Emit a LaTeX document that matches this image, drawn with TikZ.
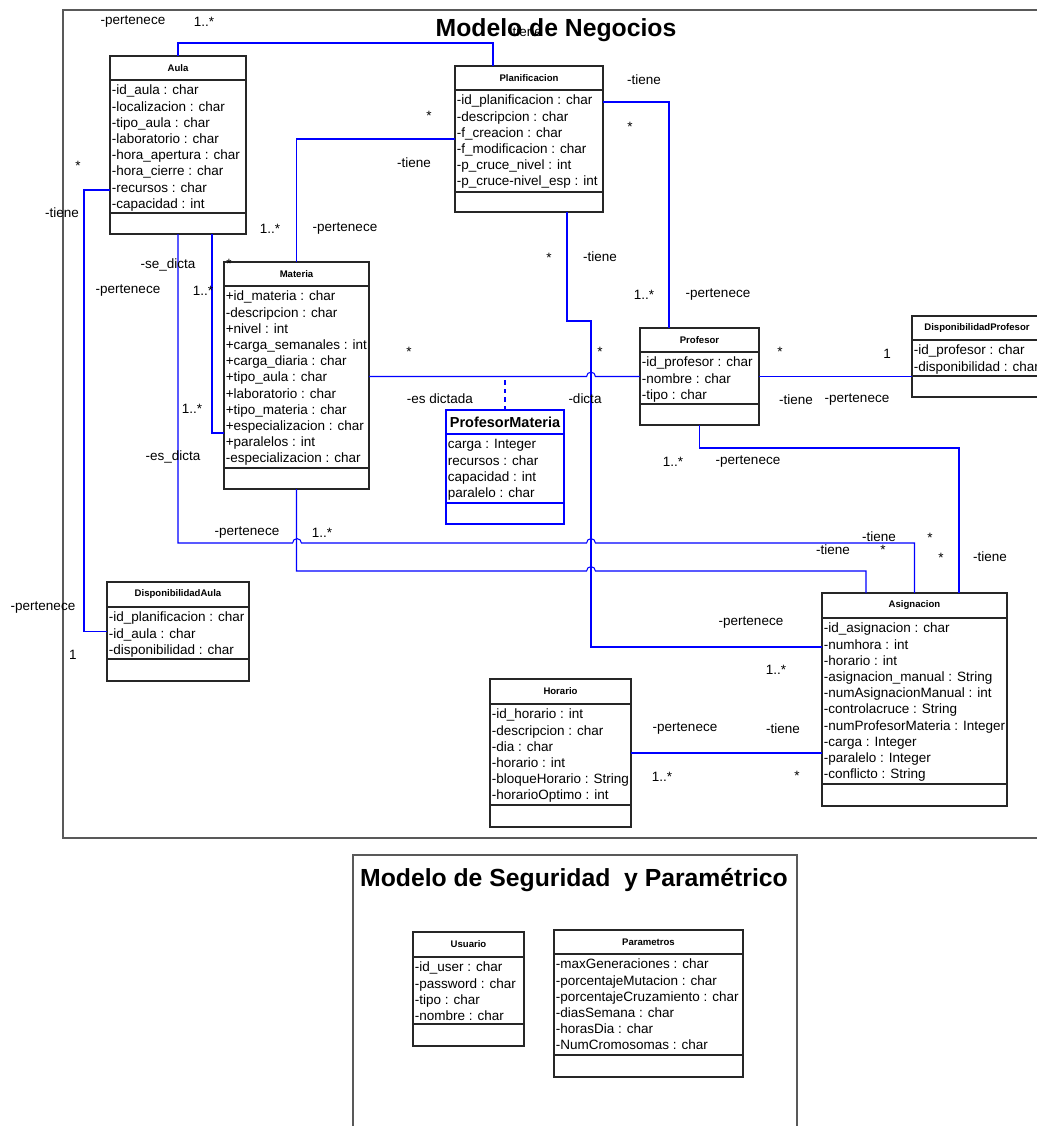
\documentclass[tikz,border=0pt]{standalone}
\usepackage{fontspec}
\setmainfont{Liberation Sans}
\usetikzlibrary{calc,positioning}

\newcommand{\px}{0.025cm}

\tikzset{
    classbox/.style={rectangle, draw=black!85, line width=0.9pt, fill=white, outer sep=0pt, inner sep=0pt},
    classline/.style={draw=black!85, line width=0.9pt},
    classtitle/.style={font=\fontsize{6.8}{8}\selectfont\bfseries, inner sep=0pt},
    attrtext/.style={font=\fontsize{9.6}{11.5}\selectfont, inner sep=0pt},
    lbl/.style={font=\fontsize{9.6}{11.5}\selectfont, inner sep=0pt},
    assoc/.style={draw=blue, line width=0.75pt},
    framebox/.style={rectangle, draw=black!65, line width=1.1pt, outer sep=0pt, inner sep=0pt},
    bigtitle/.style={font=\fontsize{17.6}{20}\selectfont\bfseries, inner sep=0pt}
}

% #1 style, #2 name, #3 top left, #4 width, #5 height, #6 header, #7 separator, #8 title, #9 attributes
\newcommand{\umlclass}[9][]{%
    \node[classbox, #1, anchor=north west, minimum width=#4*\px, minimum height=#5*\px] (#2) at (#3) {};
    \draw[classline, #1] ($(#2.north west)+(0,#6)$) -- ($(#2.north east)+(0,#6)$);
    \draw[classline, #1] ($(#2.north west)+(0,#7)$) -- ($(#2.north east)+(0,#7)$);
    \node[classtitle] (#2-title) at ($(#2.north)+(0,#6/2)$) {#8};
    \foreach \a [count=\i] in {#9}
        \node[attrtext, anchor=base west] (#2-a\i) at ($(#2.north west)+(1.5,{#6+14.8+16.2*(\i-1)})$) {\a};
}

\begin{document}
\begin{tikzpicture}[x=\px, y=-\px]
\useasboundingbox (0,0) rectangle (1037,1126);

% Frames
\node[framebox, anchor=north west, minimum width=990*\px, minimum height=828*\px] (negocios) at (63,10) {};
\node[bigtitle] (negocios-title) at (556,30) {Modelo de Negocios};
\node[framebox, anchor=north west, minimum width=444*\px, minimum height=290*\px] (seguridad) at (353,855) {};
\node[bigtitle] (seguridad-title) at (574,880) {Modelo de Seguridad\ \ y Paramétrico};

% Classes
\umlclass{aula}{110,56}{136}{178}{24}{157}{Aula}{-id\_aula : char, -localizacion : char, -tipo\_aula : char, -laboratorio : char, -hora\_apertura : char, -hora\_cierre : char, -recursos : char, -capacidad : int}
\umlclass{plan}{455,66}{148}{146}{24}{126}{Planificacion}{-id\_planificacion : char, -descripcion : char, -f\_creacion : char, -f\_modificacion : char, -p\_cruce\_nivel : int, -p\_cruce-nivel\_esp : int}
\umlclass{materia}{224,262}{145}{227}{24}{206}{Materia}{+id\_materia : char, -descripcion : char, +nivel : int, +carga\_semanales : int, +carga\_diaria : char, +tipo\_aula : char, +laboratorio : char, +tipo\_materia : char, +especializacion : char, +paralelos : int, -especializacion : char}
\umlclass{profesor}{640,328}{119}{97}{24}{76}{Profesor}{-id\_profesor : char, -nombre : char, -tipo : char}
\umlclass{dispprof}{912,316}{130}{81}{24}{60}{DisponibilidadProfesor}{-id\_profesor : char, -disponibilidad : char}
\umlclass[draw=blue]{profmat}{446,410}{118}{114}{24}{93}{\fontsize{10.3}{12}\selectfont ProfesorMateria}{carga : Integer, recursos : char, capacidad : int, paralelo : char}
\umlclass{dispaula}{107,582}{142}{99}{25}{77}{DisponibilidadAula}{-id\_planificacion : char, -id\_aula : char, -disponibilidad : char}
\umlclass{asig}{822,593}{185}{213}{25}{191}{Asignacion}{-id\_asignacion : char, -numhora : int, -horario : int, -asignacion\_manual : String, -numAsignacionManual : int, -controlacruce : String, -numProfesorMateria : Integer, -carga : Integer, -paralelo : Integer, -conflicto : String}
\umlclass{horario}{490,679}{141}{148}{25}{126}{Horario}{-id\_horario : int, -descripcion : char, -dia : char, -horario : int, -bloqueHorario : String, -horarioOptimo : int}
\umlclass{usuario}{413,932}{111}{114}{25}{92}{Usuario}{-id\_user : char, -password : char, -tipo : char, -nombre : char}
\umlclass{param}{554,930}{189}{147}{24}{125}{Parametros}{-maxGeneraciones : char, -porcentajeMutacion : char, -porcentajeCruzamiento : char, -diasSemana : char, -horasDia : char, -NumCromosomas : char}

% Associations
\draw[assoc] (aula.north) -- ++(0,-13) -| ($(plan.north west)+(38,0)$);
\draw[assoc] (plan.west) -| (materia.north);
\draw[assoc] ($(plan.north east)+(0,36)$) -| ($(profesor.north west)+(29,0)$);
\draw[assoc] ($(plan.south west)+(112,0)$) |- (591,321) |- ($(asig.north west)+(0,54)$);
\draw[assoc] (materia.east |- profesor.west) -- (586.6,376.5) arc[start angle=180, end angle=0, radius=0.11cm] -- (profesor.west);
\draw[assoc, dashed] (profmat.north) -- (profmat.north |- profesor.west);
\draw[assoc] (profesor.east) -- (profesor.east -| dispprof.west);
\draw[assoc] (profesor.south) -- ++(0,23) -| ($(asig.north west)+(137,0)$);
\draw[assoc] (aula.south) |- (292.6,543) arc[start angle=180, end angle=0, radius=0.11cm] -- (586.6,543) arc[start angle=180, end angle=0, radius=0.11cm] -| (asig.north);
\draw[assoc] ($(aula.south west)+(102,0)$) |- ($(materia.north west)+(0,171)$);
\draw[assoc] (materia.south) |- (586.6,571) arc[start angle=180, end angle=0, radius=0.11cm] -| ($(asig.north west)+(44,0)$);
\draw[assoc] ($(aula.north west)+(0,134)$) -- ++(-26,0) |- (dispaula.west);
\draw[assoc] (horario.east) -- (horario.east -| asig.west);

% Roles and multiplicities
\node[lbl] (ap-rol1) at (133,22) {-pertenece};
\node[lbl] (ap-mul1) at (204,22) {1..*};
\node[lbl] (ap-rol2) at (525,32) {-tiene};

\node[lbl] (pm-mul1) at (429,116) {*};
\node[lbl] (pm-rol1) at (414,163) {-tiene};
\node[lbl] (pm-mul2) at (270,229) {1..*};
\node[lbl] (pm-rol2) at (345,229) {-pertenece};

\node[lbl] (pp-rol1) at (644,80) {-tiene};
\node[lbl] (pp-mul1) at (630,127) {*};
\node[lbl] (pp-mul2) at (644,295) {1..*};
\node[lbl] (pp-rol2) at (718,295) {-pertenece};

\node[lbl] (pa-mul1) at (549,258) {*};
\node[lbl] (pa-rol1) at (600,257) {-tiene};
\node[lbl] (pa-rol2) at (751,623) {-pertenece};
\node[lbl] (pa-mul2) at (776,670) {1..*};

\node[lbl] (ad-mul1) at (78,166) {*};
\node[lbl] (ad-rol1) at (62,213) {-tiene};
\node[lbl] (ad-rol2) at (43,608) {-pertenece};
\node[lbl] (ad-mul2) at (73,655) {1};

\node[lbl] (am-rol1) at (168,265) {-se\_dicta};
\node[lbl] (am-mul1) at (229,264) {*};
\node[lbl] (am-rol2) at (128,291) {-pertenece};
\node[lbl] (am-mul2) at (203,291) {1..*};

\node[lbl] (aa-mul1) at (192,409) {1..*};
\node[lbl] (aa-rol1) at (173,457) {-es\_dicta};
\node[lbl] (aa-rol2) at (247,533) {-pertenece};
\node[lbl] (aa-mul2) at (322,533) {1..*};
\node[lbl] (aa-rol3) at (879,537) {-tiene};
\node[lbl] (aa-mul3) at (930,538) {*};

\node[lbl] (ma-rol1) at (833,550) {-tiene};
\node[lbl] (ma-mul1) at (883,550) {*};

\node[lbl] (mp-mul1) at (409,352) {*};
\node[lbl] (mp-mul2) at (600,352) {*};
\node[lbl] (mp-rol1) at (440,399) {-es dictada};
\node[lbl] (mp-rol2) at (585,399) {-dicta};

\node[lbl] (pd-mul1) at (780,352) {*};
\node[lbl] (pd-mul2) at (887,354) {1};
\node[lbl] (pd-rol1) at (796,400) {-tiene};
\node[lbl] (pd-rol2) at (857,400) {-pertenece};

\node[lbl] (pr-mul1) at (673,462) {1..*};
\node[lbl] (pr-rol1) at (748,462) {-pertenece};
\node[lbl] (pr-mul2) at (941,558) {*};
\node[lbl] (pr-rol2) at (990,557) {-tiene};

\node[lbl] (ha-rol1) at (685,729) {-pertenece};
\node[lbl] (ha-rol2) at (783,729) {-tiene};
\node[lbl] (ha-mul1) at (662,777) {1..*};
\node[lbl] (ha-mul2) at (797,776) {*};
\end{tikzpicture}
\end{document}
